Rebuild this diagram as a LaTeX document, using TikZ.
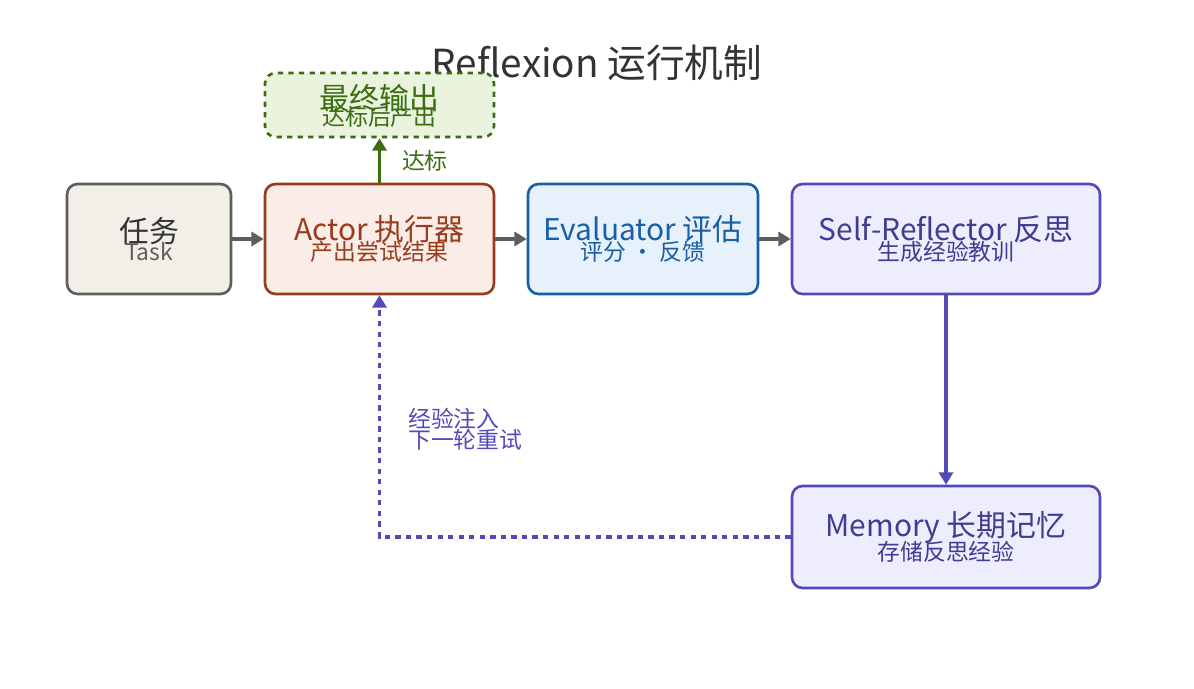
\documentclass[tikz,border=0pt]{standalone}
\usepackage{fontspec}
\setmainfont{Noto Sans CJK SC}
\usetikzlibrary{positioning, arrows.meta}
\definecolor{grisB}{HTML}{5F5E5A}
\definecolor{grisF}{HTML}{F1EFE8}
\definecolor{rojoB}{HTML}{993C1D}
\definecolor{rojoF}{HTML}{FAECE7}
\definecolor{azulB}{HTML}{185FA5}
\definecolor{azulF}{HTML}{E6F1FB}
\definecolor{moraB}{HTML}{534AB7}
\definecolor{moraF}{HTML}{EEEDFE}
\definecolor{verdeB}{HTML}{3B6D11}
\definecolor{verdeF}{HTML}{EAF3DE}
\tikzset{
    caja/.style={draw, rounded corners=6pt, line width=1.5pt, minimum height=2.2cm, align=center},
    sub/.style={font=\fontsize{13}{15}\selectfont},
    flecha/.style={-{Triangle[length=7pt,width=8pt]}, line width=2pt, grisB},
}
\newcommand{\principal}[1]{{\fontsize{17}{20}\selectfont #1}}
\newcommand{\subtexto}[1]{{\fontsize{13}{15}\selectfont #1}}

\begin{document}
\begin{tikzpicture}[x=0.02cm, y=-0.02cm]
        \useasboundingbox (0,0) rectangle (1194,689);

        \node [text=black!80, font=\fontsize{22}{26}\selectfont] (titulo) at (597,63) {Reflexion 运行机制};

        \node [caja, fill=grisF, draw=grisB, text=black!80, minimum width=3.28cm] (tarea) at (149,239) {\principal{任务}\\[-2pt]\subtexto{\color{grisB}Task}};
        \node [caja, fill=rojoF, draw=rojoB, text=rojoB, minimum width=4.58cm] (actor) at (379.5,239) {\principal{Actor 执行器}\\[-2pt]\subtexto{产出尝试结果}};
        \node [caja, fill=azulF, draw=azulB, text=azulB, minimum width=4.6cm] (eval) at (643,239) {\principal{Evaluator 评估}\\[-2pt]\subtexto{评分 · 反馈}};
        \node [caja, fill=moraF, draw=moraB, text=moraB!80!black, minimum width=6.16cm] (refl) at (946,239) {\principal{Self-Reflector 反思}\\[-2pt]\subtexto{生成经验教训}};
        \node [caja, fill=moraF, draw=moraB, text=moraB!80!black, minimum width=6.16cm, minimum height=2.04cm] (memoria) at (946,537) {\principal{Memory 长期记忆}\\[-2pt]\subtexto{存储反思经验}};
        \node [caja, dashed, fill=verdeF, draw=verdeB, text=verdeB, minimum width=4.58cm, minimum height=1.28cm] (salida) at (379.5,105) {};
        \node [text=verdeB] (salida1) at (379.5,98) {\principal{最终输出}};
        \node [text=verdeB, sub] (salida2) at (379.5,117) {达标后产出};

        \draw [flecha] (tarea) -- (actor);
        \draw [flecha] (actor) -- (eval);
        \draw [flecha] (eval) -- (refl);
        \draw [flecha, verdeB] (actor) -- (salida) node [midway, right=0.3cm, sub, text=verdeB] (lbl1) {达标};
        \draw [flecha, moraB] (refl) -- (memoria);
        \coordinate (esquina) at (379.5,537);
        \draw [flecha, moraB, dashed] (memoria.west) -- (esquina) -- (actor.south);
        \node [sub, text=moraB, align=left, anchor=north west] (lbl2) at (402,402) {经验注入\\[-3pt]下一轮重试};
    \end{tikzpicture}
\end{document}
